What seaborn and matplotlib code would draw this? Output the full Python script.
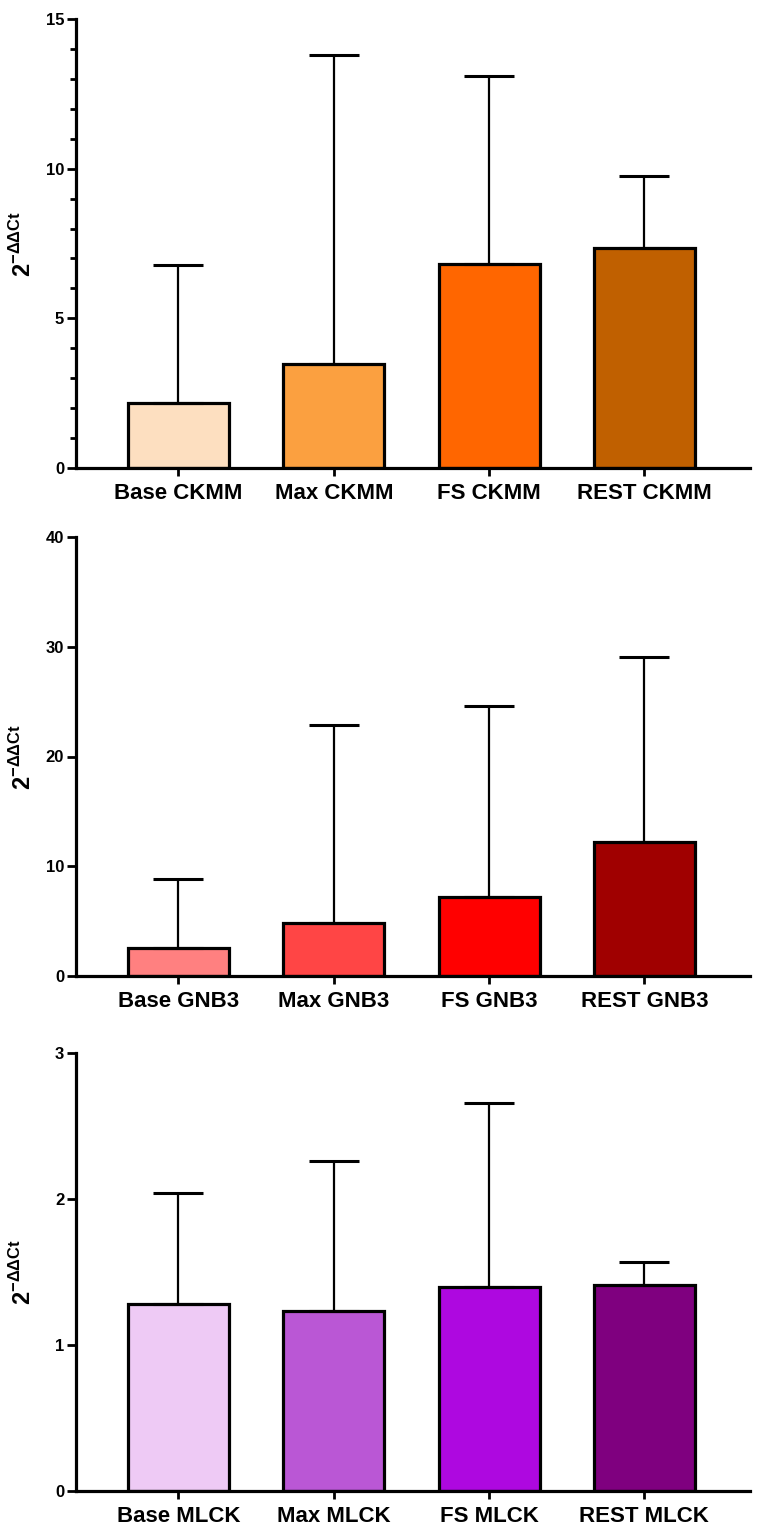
import matplotlib
matplotlib.use("Agg")
import matplotlib.pyplot as plt
import seaborn as sns
import numpy as np
from matplotlib.ticker import MultipleLocator

# ---- data ----
ckmm_labels = ["Base CKMM", "Max CKMM", "FS CKMM", "REST CKMM"]
ckmm_mean = [2.17, 3.47, 6.82, 7.35]
ckmm_upper = [6.78, 13.79, 13.09, 9.77]
ckmm_colors = ["#FDDFC0", "#FBA040", "#FF6600", "#C06000"]

gnb3_labels = ["Base GNB3", "Max GNB3", "FS GNB3", "REST GNB3"]
gnb3_mean = [2.55, 4.83, 7.2, 12.2]
gnb3_upper = [8.83, 22.86, 24.6, 29.05]
gnb3_colors = ["#FF8080", "#FF4545", "#FF0000", "#A00000"]

mlck_labels = ["Base MLCK", "Max MLCK", "FS MLCK", "REST MLCK"]
mlck_mean = [1.28, 1.23, 1.40, 1.41]
mlck_upper = [2.04, 2.26, 2.66, 1.57]
mlck_colors = ["#EECAF5", "#BA57D5", "#AE08E0", "#7F007F"]

y_label = r"$\mathbf{2}^{\mathbf{-\Delta\Delta Ct}}$"

sns.set_theme(style="ticks")
plt.rcParams["font.family"] = ["Liberation Sans", "DejaVu Sans"]
plt.rcParams["mathtext.fontset"] = "custom"
plt.rcParams["mathtext.rm"] = "Liberation Sans"
plt.rcParams["mathtext.bf"] = "Liberation Sans:bold"

fig = plt.figure(figsize=(7.64, 15.35), dpi=100)
W, H = 764, 1535
left, right = 76, 750
panels = [
    (ckmm_labels, ckmm_mean, ckmm_upper, ckmm_colors, 19, 468, 15, 5, 1),
    (gnb3_labels, gnb3_mean, gnb3_upper, gnb3_colors, 537, 976, 40, 10, None),
    (mlck_labels, mlck_mean, mlck_upper, mlck_colors, 1053, 1491, 3, 1, None),
]

for labels, means, uppers, colors, top, bottom, ymax, major, minor in panels:
    ax = fig.add_axes([left / W, 1 - bottom / H, (right - left) / W, (bottom - top) / H])
    sns.barplot(x=labels, y=means, hue=labels, palette=colors, legend=False,
                width=0.65, edgecolor="black", linewidth=2.3, ax=ax, saturation=1)
    err = np.array(uppers) - np.array(means)
    ax.errorbar(np.arange(len(labels)), means, yerr=[np.zeros(len(err)), err],
                fmt="none", ecolor="black", elinewidth=1.6, capsize=18,
                capthick=2.2, zorder=1)
    ax.set_xlim(-0.66, 3.68)
    ax.set_ylim(0, ymax)
    ax.yaxis.set_major_locator(MultipleLocator(major))
    if minor:
        ax.yaxis.set_minor_locator(MultipleLocator(minor))
    for s in ["top", "right"]:
        ax.spines[s].set_visible(False)
    for s in ["left", "bottom"]:
        ax.spines[s].set_linewidth(2.3)
        ax.spines[s].set_color("black")
    ax.tick_params(axis="y", which="major", length=6.5, width=2, pad=2,
                   labelsize=12, colors="black")
    ax.tick_params(axis="y", which="minor", length=4, width=2, colors="black")
    ax.tick_params(axis="x", which="major", length=6, width=2, pad=5,
                   labelsize=16, colors="black")
    for t in ax.get_xticklabels() + ax.get_yticklabels():
        t.set_fontweight("bold")
    ax.set_xlabel("")
    ax.set_ylabel(y_label, fontsize=17, color="black")
    ax.yaxis.set_label_coords(-0.06, 0.5)

fig.savefig("out.png", dpi=100, facecolor="white")
